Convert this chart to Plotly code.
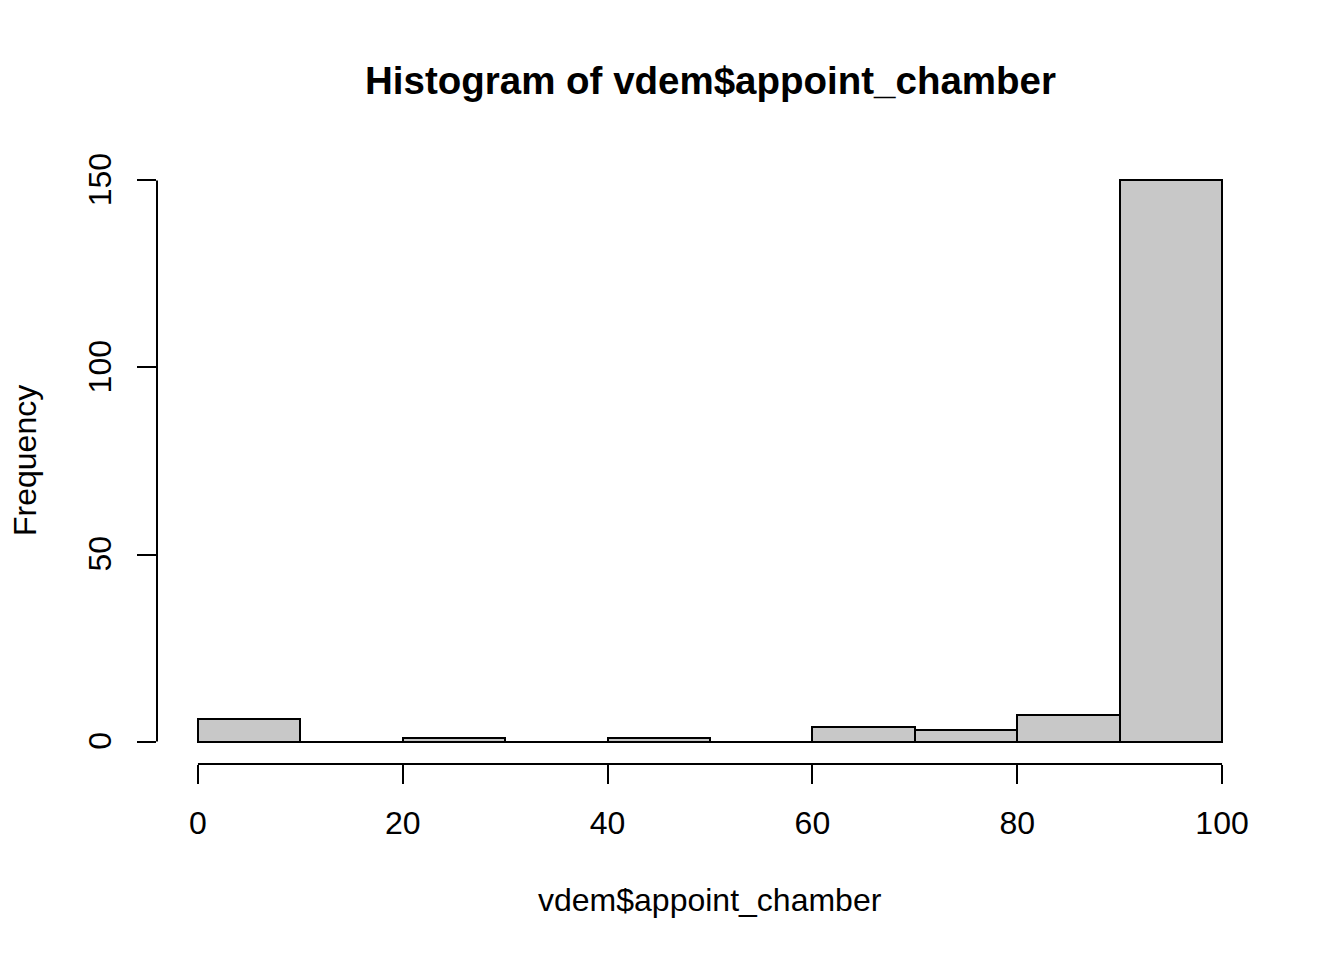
import plotly.graph_objects as go

# Histogram data
breaks = [0, 10, 20, 30, 40, 50, 60, 70, 80, 90, 100]
counts = [6, 0, 1, 0, 1, 0, 4, 3, 7, 150]
x_ticks = [0, 20, 40, 60, 80, 100]
y_ticks = [0, 50, 100, 150]

title_text = "Histogram of vdem$appoint_chamber"
x_label = "vdem$appoint_chamber"
y_label = "Frequency"

FONT = "Liberation Sans, Arial, Helvetica, sans-serif"
BASE = 32

mids = [(a + b) / 2 for a, b in zip(breaks[:-1], breaks[1:])]
widths = [b - a for a, b in zip(breaks[:-1], breaks[1:])]

fig = go.Figure()
fig.add_trace(go.Bar(
    x=mids, y=counts, width=widths,
    marker=dict(color="#C8C8C8", line=dict(color="black", width=2)),
    hoverinfo="x+y",
))

# R-style range extension (4%)
xr = breaks[-1] - breaks[0]
x_range = [breaks[0] - 0.04 * xr, breaks[-1] + 0.04 * xr]
y_range = [0 - 0.04 * max(counts), max(counts) + 0.04 * max(counts)]

fig.update_layout(
    width=1344, height=960,
    margin=dict(l=149, r=89, t=149.5, b=203.5, autoexpand=False),
    paper_bgcolor="white", plot_bgcolor="white",
    showlegend=False,
    font=dict(family=FONT, size=BASE, color="black"),
    bargap=0,
    xaxis=dict(
        range=x_range, tickvals=x_ticks, ticktext=[str(v) for v in x_ticks],
        ticks="outside", ticklen=19, tickwidth=2, tickcolor="black",
        showgrid=False, zeroline=False, showline=False,
        ticklabelstandoff=12,
        tickfont=dict(family=FONT, size=BASE, color="black"),
    ),
    yaxis=dict(
        range=y_range, tickvals=y_ticks, ticktext=[str(v) for v in y_ticks],
        ticks="outside", ticklen=19, tickwidth=2, tickcolor="black",
        showgrid=False, zeroline=False, showline=False,
        tickangle=-90, ticklabelstandoff=13, ticklabelshift=4,
        tickfont=dict(family=FONT, size=BASE, color="black"),
    ),
)

# Axis lines spanning tick range (R style)
fig.add_shape(type="line", xref="x", yref="paper",
              x0=min(x_ticks), x1=max(x_ticks), y0=0, y1=0,
              line=dict(color="black", width=2))
fig.add_shape(type="line", xref="paper", yref="y",
              x0=0, x1=0, y0=min(y_ticks), y1=max(y_ticks),
              line=dict(color="black", width=2))

# Titles
fig.add_annotation(text="<b>" + title_text + "</b>", xref="paper", yref="paper",
                   x=0.5, y=1, yanchor="middle", xanchor="center", yshift=77.5,
                   showarrow=False,
                   font=dict(family=FONT, size=38.5, color="black"))
fig.add_annotation(text=x_label, xref="paper", yref="paper",
                   x=0.5, y=0, yanchor="middle", xanchor="center", yshift=-135.5,
                   showarrow=False,
                   font=dict(family=FONT, size=BASE, color="black"))
fig.add_annotation(text=y_label, xref="paper", yref="paper",
                   x=0, y=0.5, xanchor="center", yanchor="middle", xshift=-132,
                   textangle=-90, showarrow=False,
                   font=dict(family=FONT, size=BASE, color="black"))

fig.write_html("out.html")
